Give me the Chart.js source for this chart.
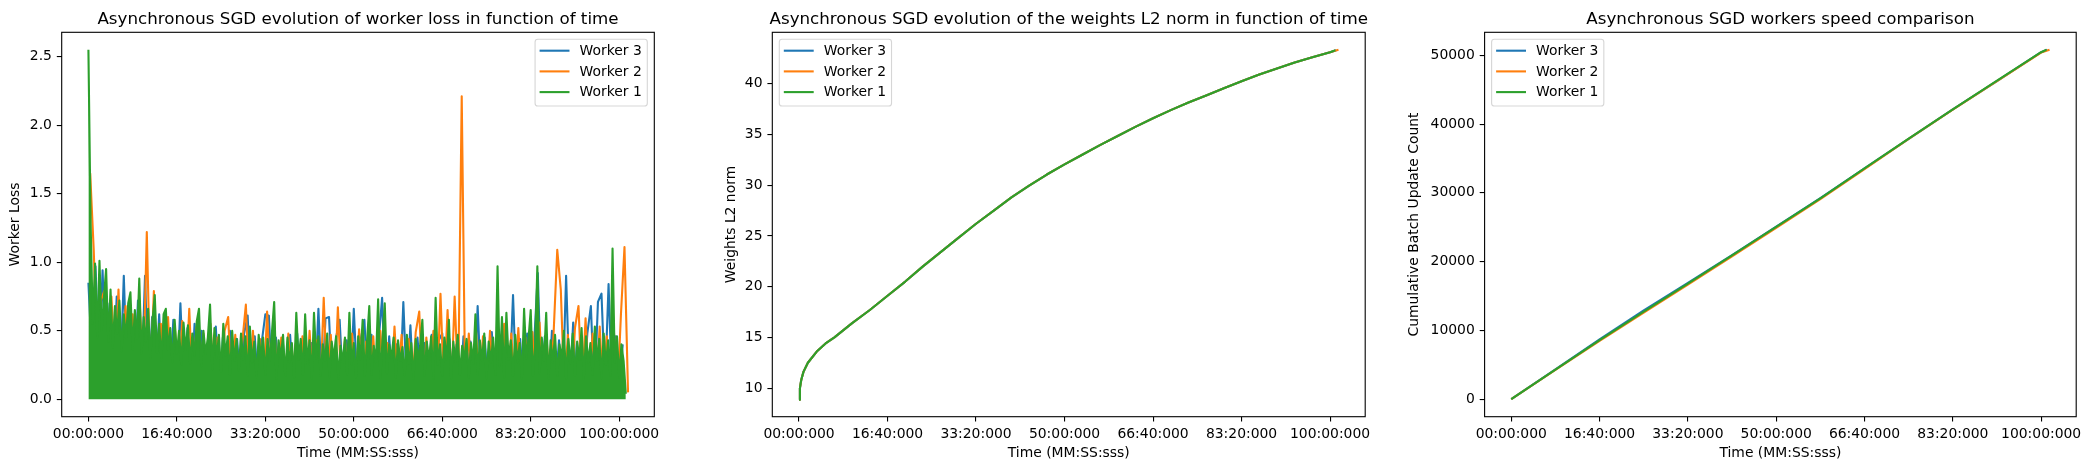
<!DOCTYPE html>
<html>
<head>
<meta charset="utf-8">
<script src="https://cdn.jsdelivr.net/npm/chart.js@4.4.1/dist/chart.umd.min.js"></script>
<style>
  body { margin: 0; background: #fff; }
  #wrap { position: relative; width: 2090px; height: 470px; }
  #wrap canvas { position: absolute; top: 0; }
</style>
</head>
<body>
<div id="wrap">
  <canvas id="c1" width="700" height="470" style="left:0"></canvas>
  <canvas id="c2" width="690" height="470" style="left:700px"></canvas>
  <canvas id="c3" width="700" height="470" style="left:1390px"></canvas>
</div>
<script>
// ---- data ----
const workers = ['Worker 1', 'Worker 2', 'Worker 3'];
const colors = ['#2ca02c', '#ff7f0e', '#1f77b4'];

const xTicks = [0, 1000, 2000, 3000, 4000, 5000, 6000]; // seconds

// worker loss, sampled every lossStep seconds from lossStart
const lossStart = [0, 20, 0];
const lossStep = [25, 40, 40];
const w1Loss = [
  2.55, 1.28, 0.55, 0.99, 0.45, 1.01, 0.50, 0.74, 0.95, 0.42,
  0.80, 0.38, 0.68, 0.48, 0.72, 0.35, 0.62, 0.45, 0.70, 0.78,
  0.36, 0.65, 0.44, 0.88, 0.33, 0.60, 0.42, 0.66, 0.30, 0.58,
  0.76, 0.34, 0.55, 0.28, 0.62, 0.66, 0.36, 0.52, 0.27, 0.58,
  0.33, 0.50, 0.25, 0.56, 0.36, 0.54, 0.26, 0.48, 0.32, 0.57,
  0.66, 0.24, 0.50, 0.33, 0.45, 0.69, 0.22, 0.52, 0.30, 0.47,
  0.20, 0.55, 0.32, 0.46, 0.18, 0.50, 0.28, 0.44, 0.21, 0.48,
  0.29, 0.46, 0.17, 0.53, 0.27, 0.42, 0.16, 0.47, 0.31, 0.45,
  0.18, 0.44, 0.28, 0.49, 0.71, 0.15, 0.43, 0.30, 0.47, 0.17,
  0.45, 0.27, 0.41, 0.16, 0.63, 0.29, 0.44, 0.18, 0.62, 0.26,
  0.43, 0.15, 0.63, 0.30, 0.46, 0.17, 0.40, 0.28, 0.48, 0.16,
  0.42, 0.30, 0.46, 0.15, 0.39, 0.27, 0.45, 0.18, 0.63, 0.25,
  0.41, 0.16, 0.46, 0.29, 0.58, 0.17, 0.43, 0.68, 0.18, 0.39,
  0.27, 0.73, 0.15, 0.44, 0.70, 0.19, 0.40, 0.30, 0.45, 0.16,
  0.43, 0.28, 0.38, 0.17, 0.47, 0.26, 0.41, 0.15, 0.44, 0.30,
  0.39, 0.58, 0.17, 0.42, 0.28, 0.46, 0.15, 0.74, 0.25, 0.40,
  0.17, 0.45, 0.29, 0.58, 0.15, 0.42, 0.27, 0.47, 0.18, 0.39,
  0.30, 0.44, 0.16, 0.41, 0.26, 0.62, 0.17, 0.43, 0.28, 0.48,
  0.15, 0.42, 0.27, 0.45, 0.18, 0.97, 0.24, 0.60, 0.16, 0.63,
  0.29, 0.43, 0.17, 0.47, 0.27, 0.41, 0.15, 0.66, 0.30, 0.44,
  0.65, 0.17, 0.39, 0.97, 0.19, 0.45, 0.28, 0.63, 0.15, 0.43,
  0.27, 0.47, 0.17, 0.40, 0.30, 0.50, 0.15, 0.44, 0.26, 0.48,
  0.17, 0.42, 0.29, 0.52, 0.15, 0.46, 0.27, 0.41, 0.18, 0.53,
  0.28, 0.44, 0.15, 0.48, 0.25, 0.43, 0.17, 1.10, 0.27, 0.46,
  0.16, 0.40, 0.28, 0.04
];
const w2Loss = [
  1.65, 1.09, 0.30, 0.72, 0.79, 0.15, 0.75, 0.20, 0.80, 0.12,
  0.68, 0.10, 0.62, 0.08, 0.70, 0.15, 1.22, 0.10, 0.79, 0.06,
  0.55, 0.05, 0.60, 0.12, 0.50, 0.04, 0.57, 0.10, 0.66, 0.03,
  0.52, 0.08, 0.48, 0.03, 0.55, 0.10, 0.45, 0.02, 0.50, 0.60,
  0.04, 0.47, 0.09, 0.42, 0.69, 0.02, 0.50, 0.08, 0.44, 0.03,
  0.64, 0.06, 0.57, 0.02, 0.45, 0.10, 0.48, 0.03, 0.40, 0.07,
  0.46, 0.02, 0.50, 0.09, 0.43, 0.03, 0.74, 0.05, 0.47, 0.02,
  0.67, 0.08, 0.44, 0.03, 0.48, 0.10, 0.51, 0.02, 0.42, 0.07,
  0.46, 0.03, 0.50, 0.09, 0.41, 0.02, 0.53, 0.06, 0.47, 0.03,
  0.44, 0.08, 0.49, 0.64, 0.02, 0.45, 0.10, 0.50, 0.03, 0.77,
  0.05, 0.65, 0.02, 0.75, 0.08, 2.21, 0.03, 0.48, 0.10, 0.52,
  0.02, 0.46, 0.07, 0.50, 0.03, 0.44, 0.09, 0.55, 0.02, 0.48,
  0.06, 0.52, 0.03, 0.45, 0.10, 0.49, 0.02, 0.56, 0.07, 0.44,
  0.03, 0.50, 1.09, 0.80, 0.05, 0.47, 0.02, 0.52, 0.68, 0.04,
  0.59, 0.03, 0.48, 0.09, 0.53, 0.02, 0.46, 0.08, 0.50, 0.03,
  0.62, 1.11, 0.05
];
const w3Loss = [
  0.85, 0.30, 0.97, 0.25, 0.94, 0.20, 0.70, 0.15, 0.75, 0.12,
  0.90, 0.10, 0.65, 0.08, 0.72, 0.12, 0.90, 0.06, 0.60, 0.10,
  0.62, 0.05, 0.55, 0.09, 0.58, 0.03, 0.70, 0.07, 0.52, 0.04,
  0.55, 0.08, 0.50, 0.03, 0.47, 0.10, 0.53, 0.02, 0.45, 0.07,
  0.50, 0.03, 0.44, 0.09, 0.48, 0.61, 0.02, 0.46, 0.08, 0.42,
  0.62, 0.61, 0.04, 0.45, 0.09, 0.40, 0.02, 0.47, 0.07, 0.48,
  0.03, 0.44, 0.10, 0.41, 0.02, 0.66, 0.05, 0.59, 0.60, 0.03,
  0.45, 0.58, 0.06, 0.43, 0.02, 0.66, 0.08, 0.44, 0.58, 0.03,
  0.47, 0.09, 0.42, 0.74, 0.02, 0.46, 0.07, 0.40, 0.03, 0.71,
  0.06, 0.54, 0.02, 0.45, 0.09, 0.41, 0.03, 0.47, 0.08, 0.43,
  0.48, 0.02, 0.44, 0.07, 0.40, 0.03, 0.46, 0.10, 0.42, 0.02,
  0.68, 0.06, 0.45, 0.03, 0.49, 0.08, 0.41, 0.02, 0.47, 0.09,
  0.76, 0.03, 0.44, 0.07, 0.48, 0.02, 0.42, 0.92, 0.05, 0.46,
  0.03, 0.50, 0.08, 0.43, 0.02, 0.90, 0.06, 0.56, 0.03, 0.45,
  0.09, 0.48, 0.68, 0.02, 0.71, 0.77, 0.10, 0.84, 0.04, 0.46,
  0.08, 0.40
];

// weights L2 norm (same curve for every worker, each stops at its own end)
const normTimes = [0, 10, 25, 50, 100, 200, 300, 400, 600, 800, 1000, 1200, 1400, 1600, 1800,
  2000, 2200, 2400, 2600, 2800, 3000, 3200, 3400, 3600, 3800, 4000, 4200, 4400, 4600, 4800,
  5000, 5200, 5400, 5600, 5800, 6000];
const normValues = [8.85, 10.0, 10.8, 11.6, 12.5, 13.6, 14.4, 15.0, 16.4, 17.7, 19.1, 20.5, 22.0, 23.4, 24.8,
  26.2, 27.5, 28.8, 29.95, 31.05, 32.05, 33.0, 33.95, 34.85, 35.75, 36.6, 37.4, 38.15, 38.85, 39.55,
  40.25, 40.9, 41.5, 42.1, 42.6, 43.1];
const normEnd = [[6060, 43.3], [6095, 43.35], [6070, 43.3]];

// cumulative batch update count
const countTimes = [0, 500, 1000, 1500, 2000, 2500, 3000, 3500, 4000, 4500, 5000, 5500, 6000];
const w1Count = [0, 4300, 8600, 12750, 16800, 20900, 25050, 29200, 33550, 37900, 42150, 46300, 50450];
const w2Count = [0, 4250, 8500, 12600, 16650, 20750, 24900, 29100, 33450, 37850, 42100, 46250, 50400];
const w3Count = [0, 4350, 8700, 12900, 16900, 20950, 25100, 29250, 33550, 37850, 42150, 46250, 50450];
const countEnd = [[6060, 50800], [6095, 50800], [6070, 50800]];

const lossTicks = [0, 0.5, 1.0, 1.5, 2.0, 2.5];
const normTicks = [10, 15, 20, 25, 30, 35, 40];
const countTicks = [0, 10000, 20000, 30000, 40000, 50000];

// ---- helpers ----
const FS = 13.9;
Chart.defaults.font.family = '"DejaVu Sans"';
Chart.defaults.font.size = FS;
Chart.defaults.color = '#000';

function pad(n, w) { return String(n).padStart(w, '0'); }
function fmtTime(sec) {
  const m = Math.floor(sec / 60), s = Math.floor(sec % 60), ms = Math.round((sec % 1) * 1000);
  return pad(m, 2) + ':' + pad(s, 2) + ':' + pad(ms, 3);
}
function sampled(values, start, step) {
  return values.map((v, i) => ({ x: start + i * step, y: v }));
}
function paired(times, values, end) {
  const pts = times.map((t, i) => ({ x: t, y: values[i] }));
  if (end) pts.push({ x: end[0], y: end[1] });
  return pts;
}

// spines, titles, axis labels and a matplotlib-like legend inside the axes
const frame = {
  id: 'frame',
  afterDraw(chart, args, o) {
    const { ctx, chartArea: a } = chart;
    const cx = (a.left + a.right) / 2;
    ctx.save();
    ctx.strokeStyle = '#000';
    ctx.lineWidth = 1.1;
    ctx.strokeRect(a.left, a.top, a.right - a.left, a.bottom - a.top);

    ctx.fillStyle = '#000';
    ctx.textAlign = 'center';
    ctx.textBaseline = 'alphabetic';
    ctx.font = '16.7px "DejaVu Sans"';
    ctx.fillText(o.title, cx, 24);
    ctx.font = FS + 'px "DejaVu Sans"';
    ctx.fillText('Time (MM:SS:sss)', cx, 457);

    ctx.save();
    ctx.translate(o.ylabelX, (a.top + a.bottom) / 2);
    ctx.rotate(-Math.PI / 2);
    ctx.textBaseline = 'middle';
    ctx.fillText(o.ylabel, 0, 0);
    ctx.restore();

    // legend
    const items = chart.data.datasets.slice().reverse();
    const bp = 0.4 * FS, hl = 2 * FS, hp = 0.8 * FS;
    const tw = Math.max(...items.map(d => ctx.measureText(d.label).width));
    const w = bp + hl + hp + tw + bp, h = 66.7;
    const x0 = o.legend === 'right' ? a.right - 7 - w : a.left + 7;
    const y0 = a.top + 7;
    ctx.beginPath();
    ctx.roundRect(x0, y0, w, h, 2.8);
    ctx.fillStyle = 'rgba(255,255,255,0.8)';
    ctx.fill();
    ctx.strokeStyle = 'rgba(204,204,204,0.8)';
    ctx.lineWidth = 1.1;
    ctx.stroke();
    ctx.textAlign = 'left';
    ctx.textBaseline = 'middle';
    items.forEach((d, i) => {
      const y = y0 + 11.4 + i * 20.7;
      ctx.strokeStyle = d.borderColor;
      ctx.lineWidth = 2.1;
      ctx.lineCap = 'square';
      ctx.beginPath();
      ctx.moveTo(x0 + bp, y);
      ctx.lineTo(x0 + bp + hl, y);
      ctx.stroke();
      ctx.fillStyle = '#000';
      ctx.fillText(d.label, x0 + bp + hl + hp, y + 0.5);
    });
    ctx.restore();
  }
};

function makeChart(id, cfg) {
  const tickGrid = { display: true, drawOnChartArea: false, drawTicks: true, tickLength: 4.9, color: '#000', lineWidth: 1.1 };
  new Chart(document.getElementById(id), {
    type: 'line',
    data: { datasets: cfg.datasets },
    plugins: [frame],
    options: {
      responsive: false,
      animation: false,
      layout: { padding: { top: 32.3, right: cfg.padRight, left: 0, bottom: 0 } },
      elements: { point: { radius: 0 }, line: { tension: 0, borderWidth: 2.1, borderJoinStyle: 'round' } },
      plugins: {
        legend: { display: false },
        tooltip: { enabled: false },
        frame: { title: cfg.title, ylabel: cfg.ylabel, ylabelX: cfg.ylabelX, legend: cfg.legend }
      },
      scales: {
        x: {
          type: 'linear', min: -302, max: 6397,
          afterBuildTicks: s => { s.ticks = xTicks.map(v => ({ value: v })); },
          afterFit: s => { s.height = 470 - 416.7; },
          grid: tickGrid,
          border: { display: false },
          ticks: { callback: v => fmtTime(v), padding: 4, maxRotation: 0, autoSkip: false }
        },
        y: {
          type: 'linear', min: cfg.yMin, max: cfg.yMax,
          afterBuildTicks: s => { s.ticks = cfg.yTicks.map(v => ({ value: v })); },
          afterFit: s => { s.width = cfg.yWidth; },
          grid: tickGrid,
          border: { display: false },
          ticks: { callback: cfg.yFmt, padding: 4.9 }
        }
      }
    }
  });
}

function lineSet(i, data, extra) {
  return Object.assign({ label: workers[i], data: data, borderColor: colors[i], backgroundColor: colors[i], fill: false }, extra || {});
}

const losses = [w1Loss, w2Loss, w3Loss];
makeChart('c1', {
  title: 'Asynchronous SGD evolution of worker loss in function of time',
  ylabel: 'Worker Loss', ylabelX: 15.6, legend: 'right',
  yMin: -0.1275, yMax: 2.6775, yTicks: lossTicks, yFmt: v => v.toFixed(1),
  yWidth: 61.7, padRight: 700 - 654.3,
  // worker 1 is plotted last in the reference, so it is densest on top; fill mimics its overplotted band
  datasets: losses.map((vals, i) => lineSet(i, sampled(vals, lossStart[i], lossStep[i]), i === 0 ? { fill: 'origin' } : {}))
});

makeChart('c2', {
  title: 'Asynchronous SGD evolution of the weights L2 norm in function of time',
  ylabel: 'Weights L2 norm', ylabelX: 31.3, legend: 'left',
  yMin: 7.18, yMax: 45.07, yTicks: normTicks, yFmt: v => String(v),
  yWidth: 72.3, padRight: 690 - 665.2,
  datasets: workers.map((w, i) => lineSet(i, paired(normTimes, normValues, normEnd[i])))
});

const counts = [w1Count, w2Count, w3Count];
makeChart('c3', {
  title: 'Asynchronous SGD workers speed comparison',
  ylabel: 'Cumulative Batch Update Count', ylabelX: 24.6, legend: 'left',
  yMin: -2540, yMax: 53340, yTicks: countTicks, yFmt: v => String(v),
  yWidth: 94.6, padRight: 700 - 686.2,
  datasets: counts.map((vals, i) => lineSet(i, paired(countTimes, vals, countEnd[i])))
});
</script>
</body>
</html>
